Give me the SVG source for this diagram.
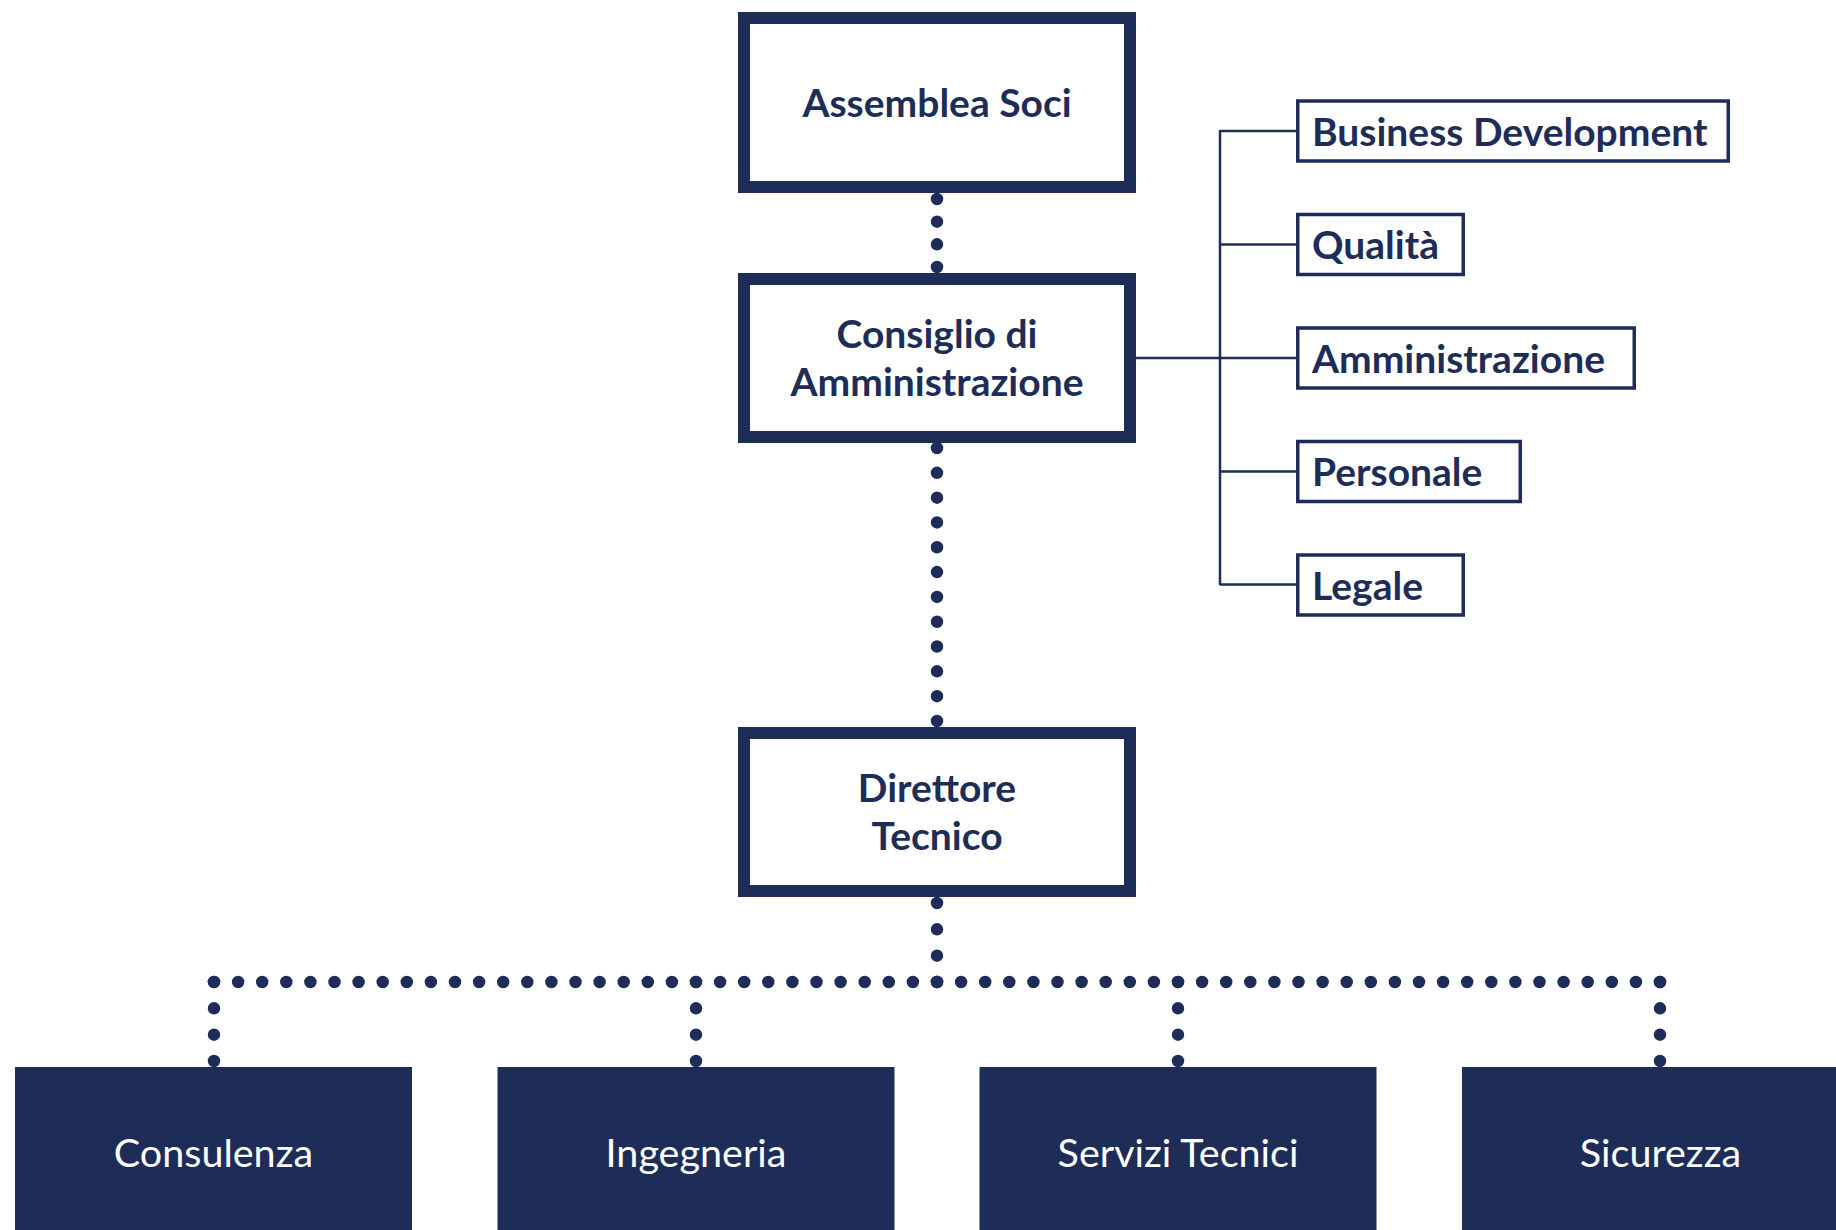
<svg xmlns="http://www.w3.org/2000/svg" width="1836" height="1230" viewBox="0 0 1836 1230">
<style>
.bg{fill:#ffffff}
.main{fill:#ffffff;stroke:#1e2d58;stroke-width:12}
.side{fill:#ffffff;stroke:#1e2d58;stroke-width:3.5}
.unit{fill:#1e2d58}
.t{font-family:Lato,"Open Sans","Liberation Sans",sans-serif;font-weight:700;font-size:39px;fill:#1e2d58}
.c{text-anchor:middle}
.w{font-family:Lato,"Open Sans","Liberation Sans",sans-serif;font-weight:400;font-size:39.5px;fill:#ffffff;text-anchor:middle}
.dot{fill:none;stroke:#1e2d58;stroke-width:12.5;stroke-linecap:round}
.thin{fill:none;stroke:#1e2d58;stroke-width:2.5}
</style>
<rect class="bg" x="0" y="0" width="1836" height="1230"/>
<g id="connectors">
<line class="dot" x1="937" y1="199" x2="937" y2="268" stroke-dasharray="0 22.667"/>
<line class="dot" x1="937" y1="448" x2="937" y2="722" stroke-dasharray="0 24.818"/>
<line class="dot" x1="937" y1="903" x2="937" y2="983" stroke-dasharray="0 26.333"/>
<line class="dot" x1="937" y1="982" x2="213" y2="982" stroke-dasharray="0 24.1"/>
<line class="dot" x1="937" y1="982" x2="1661" y2="982" stroke-dasharray="0 24.1"/>
<line class="dot" x1="214" y1="982" x2="214" y2="1062" stroke-dasharray="0 26.333"/>
<line class="dot" x1="696" y1="982" x2="696" y2="1062" stroke-dasharray="0 26.333"/>
<line class="dot" x1="1178" y1="982" x2="1178" y2="1062" stroke-dasharray="0 26.333"/>
<line class="dot" x1="1660" y1="982" x2="1660" y2="1062" stroke-dasharray="0 26.333"/>
<line class="thin" x1="1136" y1="358" x2="1296" y2="358"/>
<line class="thin" x1="1220" y1="130" x2="1220" y2="585"/>
<line class="thin" x1="1220" y1="131" x2="1296" y2="131"/>
<line class="thin" x1="1220" y1="244.5" x2="1296" y2="244.5"/>
<line class="thin" x1="1220" y1="471.5" x2="1296" y2="471.5"/>
<line class="thin" x1="1220" y1="584.5" x2="1296" y2="584.5"/>
</g>
<g id="assemblea">
<rect class="main" x="744" y="18" width="386" height="169"/>
<text class="t c" x="937" y="117">Assemblea Soci</text>
</g>
<g id="cda">
<rect class="main" x="744" y="279" width="386" height="158"/>
<text class="t c" x="937" y="348">Consiglio di</text>
<text class="t c" x="937" y="396">Amministrazione</text>
</g>
<g id="direttore">
<rect class="main" x="744" y="733" width="386" height="158"/>
<text class="t c" x="937" y="802">Direttore</text>
<text class="t c" x="937" y="850">Tecnico</text>
</g>
<g id="business">
<rect class="side" x="1297.75" y="101" width="430.5" height="60"/>
<text class="t" x="1312" y="145.5">Business Development</text>
</g>
<g id="qualita">
<rect class="side" x="1297.75" y="214.5" width="165.5" height="60"/>
<text class="t" x="1312" y="259">Qualità</text>
</g>
<g id="amministrazione">
<rect class="side" x="1297.75" y="328" width="336.5" height="60"/>
<text class="t" x="1312" y="372.5">Amministrazione</text>
</g>
<g id="personale">
<rect class="side" x="1297.75" y="441.5" width="222.5" height="60"/>
<text class="t" x="1312" y="486">Personale</text>
</g>
<g id="legale">
<rect class="side" x="1297.75" y="555" width="165.5" height="60"/>
<text class="t" x="1312" y="599.5">Legale</text>
</g>
<g id="consulenza">
<rect class="unit" x="15" y="1067" width="397" height="170"/>
<text class="w" x="213.5" y="1167">Consulenza</text>
</g>
<g id="ingegneria">
<rect class="unit" x="497.5" y="1067" width="397" height="170"/>
<text class="w" x="696" y="1167">Ingegneria</text>
</g>
<g id="servizi">
<rect class="unit" x="979.5" y="1067" width="397" height="170"/>
<text class="w" x="1178" y="1167">Servizi Tecnici</text>
</g>
<g id="sicurezza">
<rect class="unit" x="1462" y="1067" width="397" height="170"/>
<text class="w" x="1660.5" y="1167">Sicurezza</text>
</g>
</svg>
